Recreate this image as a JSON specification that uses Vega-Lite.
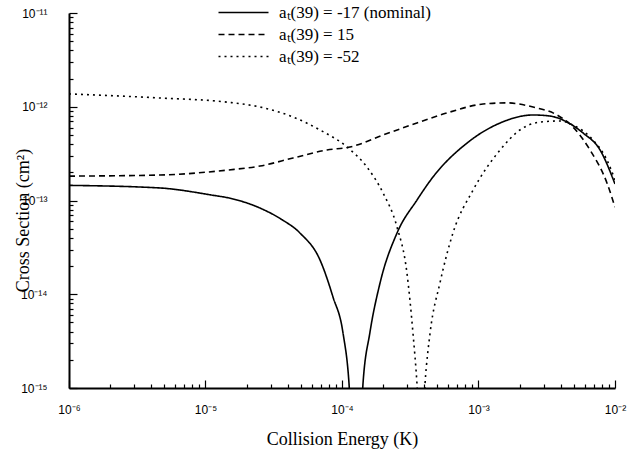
{
  "$schema": "https://vega.github.io/schema/vega-lite/v6.json",
  "width": 546,
  "height": 375,
  "autosize": {"type": "none"},
  "padding": {"left": 69, "top": 13, "right": 17, "bottom": 70},
  "background": "white",
  "config": {
    "view": {"stroke": null},
    "axis": {
      "grid": false,
      "domainColor": "black",
      "domainWidth": 2,
      "ticks": true,
      "tickColor": "black",
      "tickWidth": 1.2,
      "labelFont": "Liberation Sans",
      "labelFontSize": 12,
      "labelColor": "black",
      "titleFont": "Liberation Serif",
      "titleFontSize": 18,
      "titleFontWeight": "normal",
      "titleColor": "black"
    }
  },
  "data": {
    "values": [
      {"s": "aₜ(39) = -17 (nominal)", "E": 1e-6, "sigma": 1.45e-13},
      {"s": "aₜ(39) = -17 (nominal)", "E": 4.64e-6, "sigma": 1.36e-13},
      {"s": "aₜ(39) = -17 (nominal)", "E": 1.08e-5, "sigma": 1.15e-13},
      {"s": "aₜ(39) = -17 (nominal)", "E": 1.59e-5, "sigma": 1.04e-13},
      {"s": "aₜ(39) = -17 (nominal)", "E": 2.51e-5, "sigma": 8.3e-14},
      {"s": "aₜ(39) = -17 (nominal)", "E": 3.6e-5, "sigma": 6.3e-14},
      {"s": "aₜ(39) = -17 (nominal)", "E": 4.92e-5, "sigma": 4.5e-14},
      {"s": "aₜ(39) = -17 (nominal)", "E": 6.9e-5, "sigma": 2.32e-14},
      {"s": "aₜ(39) = -17 (nominal)", "E": 8.59e-5, "sigma": 9.35e-15},
      {"s": "aₜ(39) = -17 (nominal)", "E": 1.017e-4, "sigma": 3.87e-15},
      {"s": "aₜ(39) = -17 (nominal)", "E": 1.125e-4, "sigma": 1.13e-15},
      {"s": "aₜ(39) = -17 (nominal)", "E": 1.164e-4, "sigma": 5e-16},
      {"s": "aₜ(39) = -17 (nominal)", "E": 1.377e-4, "sigma": 5e-16},
      {"s": "aₜ(39) = -17 (nominal)", "E": 1.426e-4, "sigma": 1.13e-15},
      {"s": "aₜ(39) = -17 (nominal)", "E": 1.6e-4, "sigma": 3.87e-15},
      {"s": "aₜ(39) = -17 (nominal)", "E": 1.9e-4, "sigma": 1.32e-14},
      {"s": "aₜ(39) = -17 (nominal)", "E": 2.53e-4, "sigma": 4.5e-14},
      {"s": "aₜ(39) = -17 (nominal)", "E": 3.54e-4, "sigma": 1.01e-13},
      {"s": "aₜ(39) = -17 (nominal)", "E": 4.64e-4, "sigma": 1.78e-13},
      {"s": "aₜ(39) = -17 (nominal)", "E": 8.24e-4, "sigma": 4.1e-13},
      {"s": "aₜ(39) = -17 (nominal)", "E": 1.44e-3, "sigma": 6.71e-13},
      {"s": "aₜ(39) = -17 (nominal)", "E": 2.51e-3, "sigma": 8.17e-13},
      {"s": "aₜ(39) = -17 (nominal)", "E": 3.34e-3, "sigma": 7.96e-13},
      {"s": "aₜ(39) = -17 (nominal)", "E": 4.45e-3, "sigma": 6.87e-13},
      {"s": "aₜ(39) = -17 (nominal)", "E": 5.83e-3, "sigma": 5.25e-13},
      {"s": "aₜ(39) = -17 (nominal)", "E": 7.77e-3, "sigma": 3.46e-13},
      {"s": "aₜ(39) = -17 (nominal)", "E": 1e-2, "sigma": 1.5e-13},

      {"s": "aₜ(39) = 15", "E": 1e-6, "sigma": 1.82e-13},
      {"s": "aₜ(39) = 15", "E": 4.64e-6, "sigma": 1.87e-13},
      {"s": "aₜ(39) = 15", "E": 1.44e-5, "sigma": 2.11e-13},
      {"s": "aₜ(39) = 15", "E": 2.51e-5, "sigma": 2.33e-13},
      {"s": "aₜ(39) = 15", "E": 4.38e-5, "sigma": 2.84e-13},
      {"s": "aₜ(39) = 15", "E": 7.76e-5, "sigma": 3.46e-13},
      {"s": "aₜ(39) = 15", "E": 1.146e-4, "sigma": 3.72e-13},
      {"s": "aₜ(39) = 15", "E": 2.0e-4, "sigma": 5.0e-13},
      {"s": "aₜ(39) = 15", "E": 3.54e-4, "sigma": 6.71e-13},
      {"s": "aₜ(39) = 15", "E": 6.18e-4, "sigma": 8.79e-13},
      {"s": "aₜ(39) = 15", "E": 1.08e-3, "sigma": 1.07e-12},
      {"s": "aₜ(39) = 15", "E": 1.62e-3, "sigma": 1.1e-12},
      {"s": "aₜ(39) = 15", "E": 2.51e-3, "sigma": 9.93e-13},
      {"s": "aₜ(39) = 15", "E": 3.76e-3, "sigma": 8.17e-13},
      {"s": "aₜ(39) = 15", "E": 4.92e-3, "sigma": 6.08e-13},
      {"s": "aₜ(39) = 15", "E": 6.56e-3, "sigma": 3.46e-13},
      {"s": "aₜ(39) = 15", "E": 8.73e-3, "sigma": 1.54e-13},
      {"s": "aₜ(39) = 15", "E": 1e-2, "sigma": 8.5e-14},

      {"s": "aₜ(39) = -52", "E": 1e-6, "sigma": 1.37e-12},
      {"s": "aₜ(39) = -52", "E": 4.64e-6, "sigma": 1.24e-12},
      {"s": "aₜ(39) = -52", "E": 1.44e-5, "sigma": 1.12e-12},
      {"s": "aₜ(39) = -52", "E": 2.51e-5, "sigma": 9.93e-13},
      {"s": "aₜ(39) = -52", "E": 4.38e-5, "sigma": 7.78e-13},
      {"s": "aₜ(39) = -52", "E": 6.9e-5, "sigma": 5.65e-13},
      {"s": "aₜ(39) = -52", "E": 1.089e-4, "sigma": 3.72e-13},
      {"s": "aₜ(39) = -52", "E": 1.52e-4, "sigma": 2.28e-13},
      {"s": "aₜ(39) = -52", "E": 2.0e-4, "sigma": 1.2e-13},
      {"s": "aₜ(39) = -52", "E": 2.53e-4, "sigma": 5.21e-14},
      {"s": "aₜ(39) = -52", "E": 2.99e-4, "sigma": 1.69e-14},
      {"s": "aₜ(39) = -52", "E": 3.31e-4, "sigma": 3.87e-15},
      {"s": "aₜ(39) = -52", "E": 3.54e-4, "sigma": 1.13e-15},
      {"s": "aₜ(39) = -52", "E": 3.66e-4, "sigma": 5e-16},
      {"s": "aₜ(39) = -52", "E": 3.92e-4, "sigma": 5e-16},
      {"s": "aₜ(39) = -52", "E": 4.06e-4, "sigma": 1.13e-15},
      {"s": "aₜ(39) = -52", "E": 4.42e-4, "sigma": 3.87e-15},
      {"s": "aₜ(39) = -52", "E": 5.22e-4, "sigma": 1.32e-14},
      {"s": "aₜ(39) = -52", "E": 6.5e-4, "sigma": 4.5e-14},
      {"s": "aₜ(39) = -52", "E": 9.12e-4, "sigma": 1.29e-13},
      {"s": "aₜ(39) = -52", "E": 1.44e-3, "sigma": 3.46e-13},
      {"s": "aₜ(39) = -52", "E": 2.01e-3, "sigma": 5.65e-13},
      {"s": "aₜ(39) = -52", "E": 2.83e-3, "sigma": 6.87e-13},
      {"s": "aₜ(39) = -52", "E": 3.95e-3, "sigma": 7.05e-13},
      {"s": "aₜ(39) = -52", "E": 4.92e-3, "sigma": 6.38e-13},
      {"s": "aₜ(39) = -52", "E": 6.9e-3, "sigma": 4.42e-13},
      {"s": "aₜ(39) = -52", "E": 8.73e-3, "sigma": 2.7e-13},
      {"s": "aₜ(39) = -52", "E": 1e-2, "sigma": 1.66e-13}
    ]
  },
  "resolve": {"axis": {"x": "independent", "y": "independent"}},
  "layer": [
    {
      "mark": {"type": "line", "clip": true, "color": "black", "strokeWidth": 1.6, "interpolate": "monotone"},
      "encoding": {
        "x": {
          "field": "E",
          "type": "quantitative",
          "scale": {"type": "log", "domain": [1e-6, 1e-2], "nice": false},
          "axis": {
            "orient": "bottom",
            "title": "Collision Energy (K)",
            "values": [1e-6, 1e-5, 1e-4, 1e-3, 1e-2],
            "labelExpr": "round(log(datum.value)/LN10) == -6 ? '10⁻⁶' : round(log(datum.value)/LN10) == -5 ? '10⁻⁵' : round(log(datum.value)/LN10) == -4 ? '10⁻⁴' : round(log(datum.value)/LN10) == -3 ? '10⁻³' : '10⁻²'",
            "tickSize": -8,
            "labelPadding": 24,
            "labelFlush": false,
            "labelOverlap": false,
            "titlePadding": 15
          }
        },
        "y": {
          "field": "sigma",
          "type": "quantitative",
          "scale": {"type": "log", "domain": [1e-15, 1e-11], "nice": false},
          "axis": {
            "orient": "left",
            "title": "Cross Section (cm²)",
            "values": [1e-15, 1e-14, 1e-13, 1e-12, 1e-11],
            "labelExpr": "round(log(datum.value)/LN10) == -15 ? '10⁻¹⁵' : round(log(datum.value)/LN10) == -14 ? '10⁻¹⁴' : round(log(datum.value)/LN10) == -13 ? '10⁻¹³' : round(log(datum.value)/LN10) == -12 ? '10⁻¹²' : '10⁻¹¹'",
            "tickSize": -8,
            "labelPadding": 30,
            "labelFlush": false,
            "labelOverlap": false,
            "titleY": 207,
            "titleX": -37
          }
        },
        "strokeDash": {
          "field": "s",
          "type": "nominal",
          "scale": {
            "domain": ["aₜ(39) = -17 (nominal)", "aₜ(39) = 15", "aₜ(39) = -52"],
            "range": [[1, 0], [6, 4], [2, 4]]
          },
          "legend": {
            "title": null,
            "orient": "none",
            "legendX": 166,
            "legendY": -9,
            "symbolType": "M-5,0L5,0",
            "symbolSize": 100,
            "symbolStrokeWidth": 1.6,
            "symbolStrokeColor": "black",
            "labelFont": "Liberation Serif",
            "labelFontSize": 17,
            "labelColor": "black",
            "labelOffset": 27,
            "labelLimit": 400,
            "padding": 0,
            "rowPadding": 4
          }
        }
      }
    },
    {
      "mark": {"type": "line", "clip": true, "opacity": 0},
      "encoding": {
        "detail": {"field": "s"},
        "x": {
          "field": "E",
          "type": "quantitative",
          "axis": {
            "orient": "bottom",
            "title": null,
            "domain": false,
            "labels": false,
            "values": [2e-6,3e-6,4e-6,5e-6,6e-6,7e-6,8e-6,9e-6,2e-5,3e-5,4e-5,5e-5,6e-5,7e-5,8e-5,9e-5,2e-4,3e-4,4e-4,5e-4,6e-4,7e-4,8e-4,9e-4,2e-3,3e-3,4e-3,5e-3,6e-3,7e-3,8e-3,9e-3],
            "tickSize": -4
          }
        },
        "y": {
          "field": "sigma",
          "type": "quantitative",
          "axis": {
            "orient": "left",
            "title": null,
            "domain": false,
            "labels": false,
            "values": [2e-15,3e-15,4e-15,5e-15,6e-15,7e-15,8e-15,9e-15,2e-14,3e-14,4e-14,5e-14,6e-14,7e-14,8e-14,9e-14,2e-13,3e-13,4e-13,5e-13,6e-13,7e-13,8e-13,9e-13,2e-12,3e-12,4e-12,5e-12,6e-12,7e-12,8e-12,9e-12],
            "tickSize": -4
          }
        }
      }
    }
  ]
}
